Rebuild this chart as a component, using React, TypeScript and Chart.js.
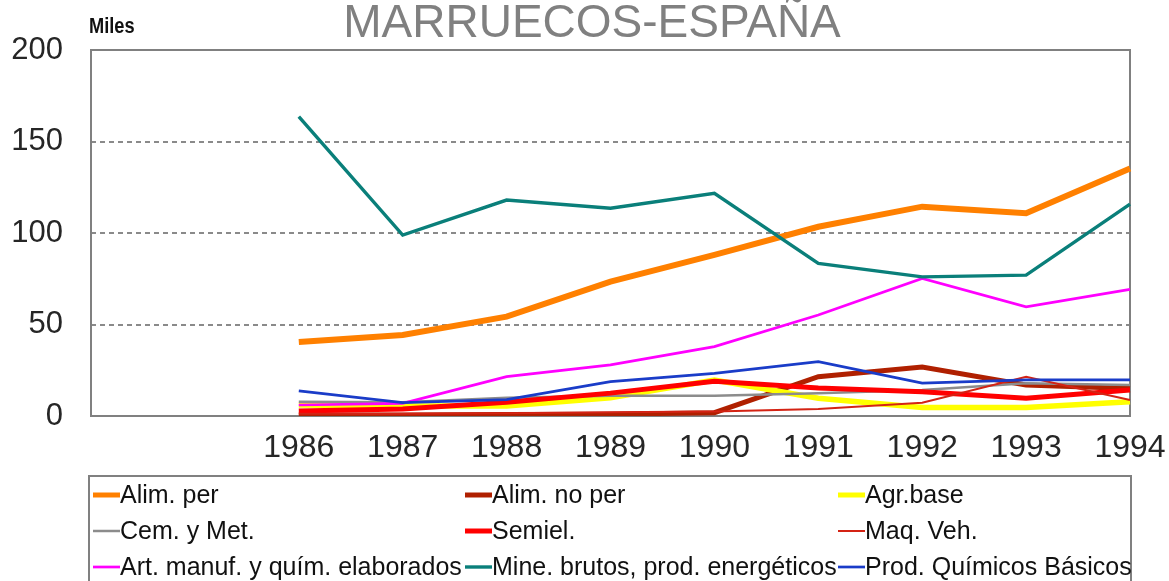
import React, { useEffect, useRef } from "react";
import { Chart, registerables } from "chart.js";

Chart.register(...registerables);

// ---- Data (thousands, "Miles") ----
const years = ["1986", "1987", "1988", "1989", "1990", "1991", "1992", "1993", "1994"];
const leadingBlankCategories = ["", ""];

const alimPer = [40.4, 44.3, 54.3, 73.4, 88, 103.4, 114.4, 110.8, 135.3];
const alimNoPer = [0.6, 0.6, 0.8, 1, 1.8, 21.5, 26.8, 17, 15];
const agrBase = [6, 5.5, 5.5, 10, 19.7, 9.7, 4.7, 4.7, 7.8];
const cemMet = [7.8, 7.5, 10, 11, 11, 12.4, 14.2, 17.9, 17];
const semiel = [2.8, 3.8, 7.5, 12.5, 19, 15.3, 13.3, 9.7, 14.2];
const maqVeh = [1.2, 1.2, 1.5, 2, 2.5, 3.8, 7.3, 21.5, 8.7];
const artManuf = [6, 6.9, 21.5, 27.9, 37.9, 55.2, 75.2, 59.7, 69.2];
const mineBrutos = [163.6, 98.9, 118, 113.5, 121.7, 83.4, 76, 77, 115.8];
const prodQuimicos = [13.7, 7.3, 9, 18.8, 23.3, 29.7, 18, 19.7, 19.7];

const seriesNames = [
  "Alim. per",
  "Alim. no per",
  "Agr.base",
  "Cem. y Met.",
  "Semiel.",
  "Maq. Veh.",
  "Art. manuf. y quím. elaborados",
  "Mine. brutos, prod. energéticos",
  "Prod. Químicos Básicos",
];
const seriesValues = [alimPer, alimNoPer, agrBase, cemMet, semiel, maqVeh, artManuf, mineBrutos, prodQuimicos];
const seriesColors = ["#FF8000", "#B02000", "#FFFF00", "#8C8C8C", "#FF0000", "#D42314", "#FF00FF", "#0A7F7A", "#1A3CC8"];
const seriesWidths = [6, 5, 5.5, 2.5, 5, 2, 2.7, 3.4, 2.7];

const yTicks = [0, 50, 100, 150, 200];
const titleText = "MARRUECOS-ESPAÑA";
const unitText = "Miles";

const FONT = "'Liberation Sans', Arial, sans-serif";

const decorPlugin = {
  id: "decor",
  beforeDatasetsDraw(chart: any) {
    const { ctx, chartArea } = chart;
    ctx.save();
    ctx.strokeStyle = "#808080";
    ctx.lineWidth = 2;
    ctx.strokeRect(chartArea.left, chartArea.top, chartArea.right - chartArea.left, chartArea.bottom - chartArea.top);
    ctx.restore();
  },
  afterDraw(chart: any) {
    const { ctx } = chart;
    ctx.save();
    // Title
    ctx.fillStyle = "#808080";
    ctx.font = `46px ${FONT}`;
    ctx.textAlign = "center";
    ctx.textBaseline = "alphabetic";
    ctx.fillText(titleText, 592, 37);
    // Unit label (condensed, heavy)
    ctx.save();
    ctx.fillStyle = "#111";
    ctx.font = `bold 19px ${FONT}`;
    ctx.textAlign = "left";
    ctx.translate(89, 33);
    ctx.scale(0.96, 1.2);
    ctx.fillText(unitText, 0, 0);
    ctx.restore();

    // Legend box
    ctx.strokeStyle = "#808080";
    ctx.lineWidth = 2;
    ctx.strokeRect(89, 476, 1042, 200);
    const colX = [93, 465, 838];
    const rowY = [495, 531, 567];
    ctx.font = `25px ${FONT}`;
    ctx.textAlign = "left";
    ctx.textBaseline = "middle";
    chart.data.datasets.forEach((ds: any, i: number) => {
      const x = colX[i % 3];
      const y = rowY[Math.floor(i / 3)];
      ctx.strokeStyle = ds.borderColor;
      ctx.lineWidth = Math.max(2, Math.min(ds.borderWidth, 5));
      ctx.beginPath();
      ctx.moveTo(x, y);
      ctx.lineTo(x + 27, y);
      ctx.stroke();
      ctx.fillStyle = "#111";
      ctx.fillText(ds.label, x + 27, y + 1);
    });
    ctx.restore();
  },
};

export default function App() {
  const canvasRef = useRef<HTMLCanvasElement | null>(null);

  useEffect(() => {
    document.body.style.margin = "0";
    const canvas = canvasRef.current;
    if (!canvas) return;
    const labels = [...leadingBlankCategories, ...years];
    const datasets = seriesNames.map((name, i) => ({
      label: name,
      data: [...leadingBlankCategories.map(() => null), ...seriesValues[i]],
      borderColor: seriesColors[i],
      backgroundColor: seriesColors[i],
      borderWidth: seriesWidths[i],
      pointRadius: 0,
      tension: 0,
      fill: false,
      order: seriesNames.length - i,
    }));

    const chart = new Chart(canvas, {
      type: "line",
      data: { labels, datasets },
      plugins: [decorPlugin],
      options: {
        animation: false,
        responsive: false,
        layout: { padding: { left: 0, top: 50, right: 39, bottom: 0 } },
        plugins: {
          legend: { display: false },
          title: { display: false },
          tooltip: { enabled: false },
        },
        scales: {
          x: {
            type: "category",
            offset: false,
            grid: { display: false, drawTicks: false },
            border: { display: false },
            ticks: {
              autoSkip: false,
              maxRotation: 0,
              color: "#262626",
              font: { family: FONT, size: 32 },
              padding: 13,
            },
            afterFit(scale: any) {
              scale.height = 165;
              scale.paddingLeft = 0;
              scale.paddingRight = 0;
            },
          },
          y: {
            min: 0,
            max: 200,
            afterBuildTicks(scale: any) {
              scale.ticks = yTicks.map((v) => ({ value: v }));
            },
            grid: {
              drawTicks: false,
              color: (c: any) => (c.tick && (c.tick.value === 0 || c.tick.value === 200) ? "rgba(0,0,0,0)" : "#8a8a8a"),
              lineWidth: 2,
            },
            border: { display: false, dash: [5, 4] },
            ticks: {
              color: "#262626",
              font: { family: FONT, size: 31 },
              padding: 28,
            },
            afterFit(scale: any) {
              scale.width = 91;
            },
          },
        },
      },
    });
    return () => chart.destroy();
  }, []);

  return (
    <div style={{ position: "absolute", left: 0, top: 0, width: 1169, height: 581, background: "#fff" }}>
      <canvas ref={canvasRef} width={1169} height={581} style={{ display: "block" }} />
    </div>
  );
}
